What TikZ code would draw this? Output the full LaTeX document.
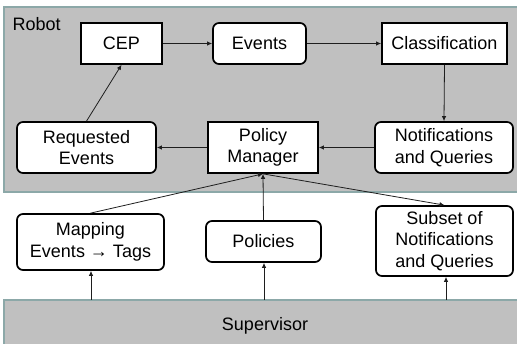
\documentclass[tikz,border=0pt]{standalone}
\usepackage{fontspec}
\setmainfont{Liberation Sans}
\usetikzlibrary{arrows.meta}
\definecolor{regfill}{RGB}{192,192,192}
\definecolor{regline}{RGB}{140,168,168}
\definecolor{arrcol}{RGB}{30,30,30}
\begin{document}
\begin{tikzpicture}[x=1pt,y=-1pt,
  txt/.style={font=\fontsize{18}{21.5}\selectfont, align=center},
  sqbox/.style={txt, draw=black, fill=white, line width=1.7pt, inner sep=0pt},
  rdbox/.style={sqbox, rounded corners=6pt},
  region/.style={draw=regline, fill=regfill, line width=1.4pt},
  arr/.style={draw=arrcol, line width=0.8pt, -{Latex[length=5pt,width=4.5pt]}}
]
\useasboundingbox (0,0) rectangle (517,344);
\clip (0,0) rectangle (517,344);
% regions
\path[region] (4,7) rectangle (530,192);
\path[region] (4,300) rectangle (530,360);
\node[txt, anchor=base west, inner sep=0pt] (robot) at (12.5,30.5) {Robot};
\node[txt, inner sep=0pt] (sup) at (265,326) {Supervisor};
\coordinate (supA) at (91,300);
\coordinate (supB) at (264,300);
\coordinate (supC) at (446,300);
% boxes
\node[sqbox, minimum width=81pt, minimum height=41pt] (cep) at (121.5,43.5) {CEP};
\node[rdbox, minimum width=93pt, minimum height=41pt] (events) at (259.5,43.5) {Events};
\node[sqbox, minimum width=125pt, minimum height=41pt] (class) at (444.5,43.5) {Classification};
\node[rdbox, minimum width=139pt, minimum height=51pt] (req) at (86.5,147.5) {Requested\\Events};
\node[sqbox, minimum width=110pt, minimum height=51pt] (pm) at (263,147.5) {Policy\\Manager};
\node[rdbox, minimum width=138pt, minimum height=51pt] (notif) at (444,147.5) {Notifications\\and Queries};
\node[rdbox, minimum width=147pt, minimum height=56pt] (map) at (90.5,242) {Mapping\\Events → Tags};
\node[rdbox, minimum width=115pt, minimum height=41pt] (pol) at (263.5,241.5) {Policies};
\node[rdbox, minimum width=137pt, minimum height=70pt] (sub) at (444.5,241) {Subset of\\Notifications\\and Queries};
% arrows
\draw[arr] (cep) -- (events);
\draw[arr] (events) -- (class);
\draw[arr] (class.south) -- (notif.north);
\draw[arr] (notif.west) -- (pm.east);
\draw[arr] (pm.west) -- (req.east);
\draw[arr] (req.north) -- (cep.south);
\draw[arr] (map.north) -- (pm.south);
\draw[arr] (pol.north) -- (pm.south);
\draw[arr] (pm.south) -- (sub.north);
\draw[arr] (supA) -- (map.south -| supA);
\draw[arr] (supB) -- (pol.south -| supB);
\draw[arr] (supC) -- (sub.south -| supC);
\end{tikzpicture}
\end{document}
